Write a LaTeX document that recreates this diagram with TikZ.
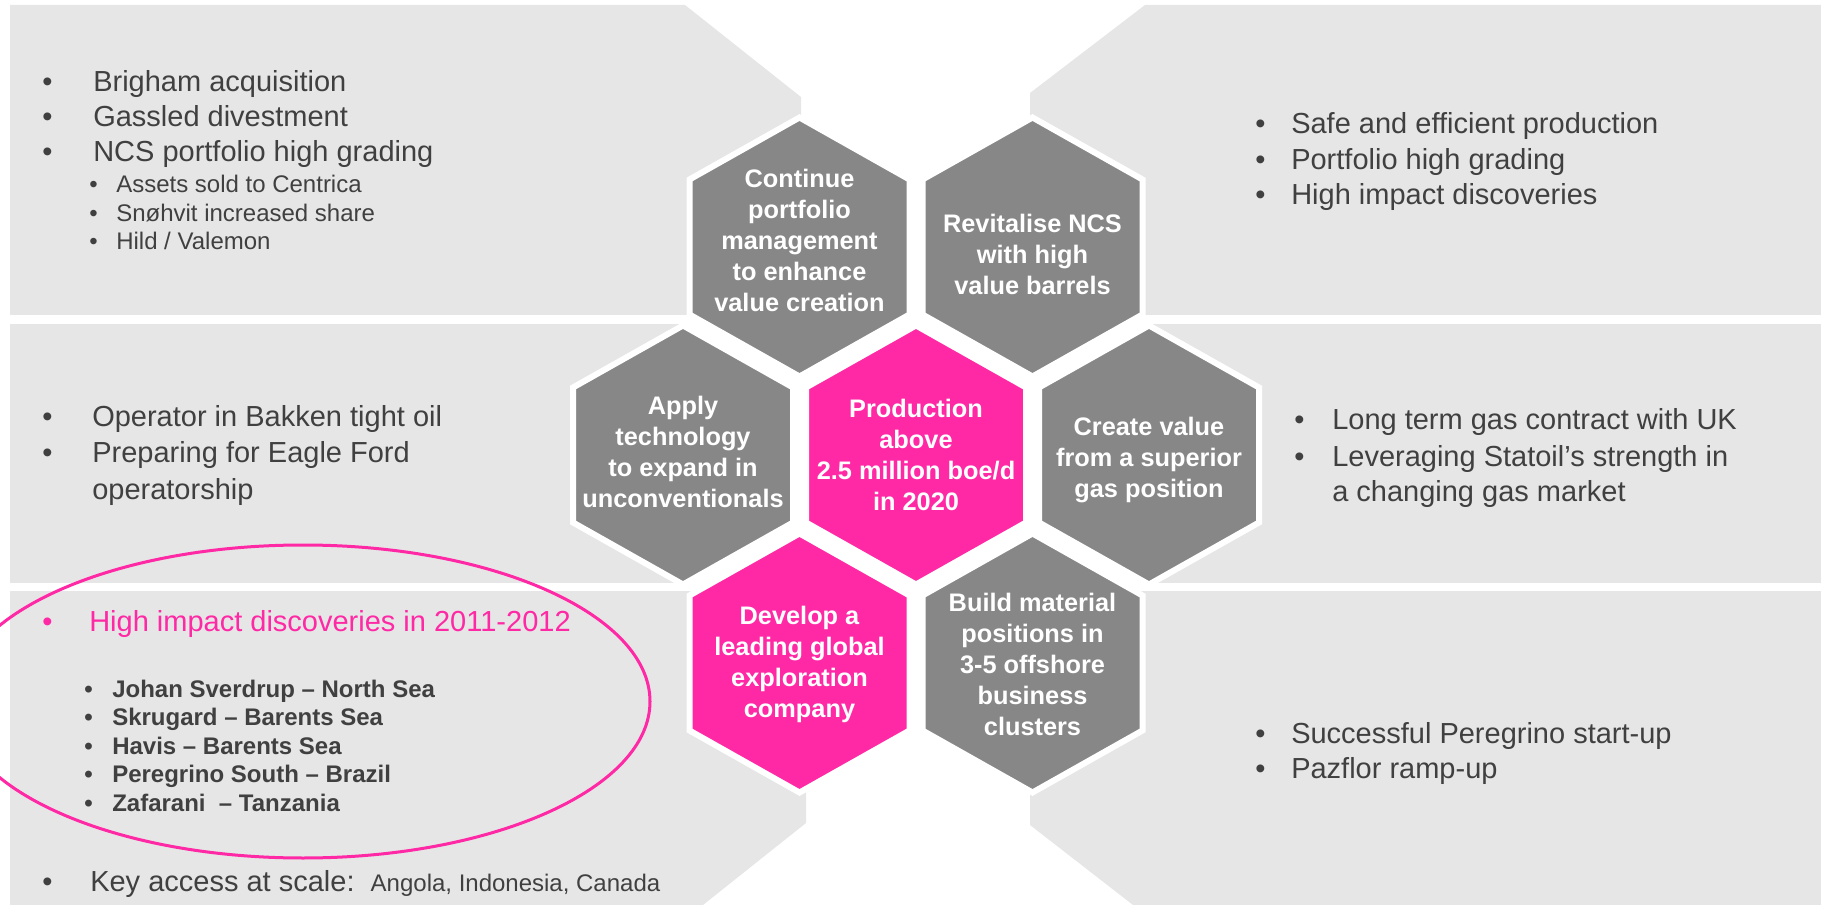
\documentclass[tikz,border=0pt]{standalone}
\usepackage{fontspec}
\setmainfont{Liberation Sans}
\definecolor{panelgrey}{RGB}{230,230,230}
\definecolor{hexgrey}{RGB}{135,135,135}
\definecolor{hexpink}{RGB}{255,40,165}
\definecolor{txtgrey}{RGB}{64,64,64}
\begin{document}
\begin{tikzpicture}[x=0.75pt,y=0.75pt,yscale=-1,xscale=1,
    panel/.style={draw=none,fill=panelgrey},
    hexg/.style={draw=white,line width=4.5pt,fill=hexgrey},
    hexp/.style={draw=white,line width=4.5pt,fill=hexpink},
    hextxt/.style={text=white,align=center,inner sep=0pt,font=\fontsize{19}{23.25}\selectfont\bfseries},
    bigtxt/.style={anchor=base west,inner sep=0pt,text=txtgrey,font=\fontsize{21.75}{26.25}\selectfont},
    subtxt/.style={anchor=base west,inner sep=0pt,text=txtgrey,font=\fontsize{18}{21.5}\selectfont},
    boldtxt/.style={subtxt,font=\fontsize{18}{21.5}\selectfont\bfseries}]
    \useasboundingbox (0,0) rectangle (1821,905);

    %Shape: Polygon [panel top left]
    \draw [panel] (10,5) -- (685,5) -- (801,97) -- (801,315) -- (10,315) -- cycle ;
    %Shape: Polygon [panel top right]
    \draw [panel] (1145,5) -- (1821,5) -- (1821,315) -- (1030,315) -- (1030,93) -- cycle ;
    %Shape: Rectangle [panel middle left]
    \draw [panel] (10,324) -- (683,324) -- (683,583) -- (10,583) -- cycle ;
    %Shape: Rectangle [panel middle right]
    \draw [panel] (1149,324) -- (1821,324) -- (1821,583) -- (1149,583) -- cycle ;
    %Shape: Polygon [panel bottom left]
    \draw [panel] (10,591) -- (806,591) -- (806,823) -- (703,905) -- (10,905) -- cycle ;
    %Shape: Polygon [panel bottom right]
    \draw [panel] (1030,591) -- (1821,591) -- (1821,905) -- (1133,905) -- (1030,825) -- cycle ;

    %Shape: Ellipse [discoveries]
    \draw [color=hexpink,line width=2.25pt] (-44,701.5) .. controls (-44,615.07) and (111.36,545) .. (303,545) .. controls (494.64,545) and (650,615.07) .. (650,701.5) .. controls (650,787.93) and (494.64,858) .. (303,858) .. controls (111.36,858) and (-44,787.93) .. (-44,701.5) -- cycle ;

    %Shape: Hexagon [continue]
    \draw [hexg] (799.5,117.5) -- (909.5,179.5) -- (909.5,314.5) -- (799.5,376.5) -- (689.5,314.5) -- (689.5,179.5) -- cycle ;
    %Shape: Hexagon [revitalise]
    \draw [hexg] (1032.5,117.5) -- (1142.5,179.5) -- (1142.5,314.5) -- (1032.5,376.5) -- (922.5,314.5) -- (922.5,179.5) -- cycle ;
    %Shape: Hexagon [apply]
    \draw [hexg] (683,325.5) -- (793,387.5) -- (793,522.5) -- (683,584.5) -- (573,522.5) -- (573,387.5) -- cycle ;
    %Shape: Hexagon [production]
    \draw [hexp] (916,325.5) -- (1026,387.5) -- (1026,522.5) -- (916,584.5) -- (806,522.5) -- (806,387.5) -- cycle ;
    %Shape: Hexagon [create]
    \draw [hexg] (1149,325.5) -- (1259,387.5) -- (1259,522.5) -- (1149,584.5) -- (1039,522.5) -- (1039,387.5) -- cycle ;
    %Shape: Hexagon [develop]
    \draw [hexp] (799.5,533.5) -- (909.5,595.5) -- (909.5,730.5) -- (799.5,792.5) -- (689.5,730.5) -- (689.5,595.5) -- cycle ;
    %Shape: Hexagon [build]
    \draw [hexg] (1032.5,533.5) -- (1142.5,595.5) -- (1142.5,730.5) -- (1032.5,792.5) -- (922.5,730.5) -- (922.5,595.5) -- cycle ;

    % Text Node
    \draw (799.5,240) node [hextxt] (cont) {Continue\\portfolio\\management\\to enhance\\value creation};
    % Text Node
    \draw (1032.5,254) node [hextxt] (revit) {Revitalise NCS\\with high\\value barrels};
    % Text Node
    \draw (683,452) node [hextxt] (apply) {Apply\\technology\\to expand in\\unconventionals};
    % Text Node
    \draw (916,455) node [hextxt] (prod) {Production\\above\\2.5 million boe/d\\in 2020};
    % Text Node
    \draw (1149,460) node [hextxt] (create) {Create value\\from a superior\\gas position};
    % Text Node
    \draw (799.5,664.5) node [hextxt] (devel) {Develop a\\leading global\\exploration\\company};
    % Text Node
    \draw (1032.5,664.5) node [hextxt] (build) {Build material\\positions in\\3-5 offshore\\business\\clusters};

    % Text Node
    \draw (42,92) node [bigtxt] (tlb1) {•};
    \draw (93,92) node [bigtxt] (tl1) {Brigham acquisition};
    % Text Node
    \draw (42,127) node [bigtxt] (tlb2) {•};
    \draw (93,127) node [bigtxt] (tl2) {Gassled divestment};
    % Text Node
    \draw (42,162) node [bigtxt] (tlb3) {•};
    \draw (93,162) node [bigtxt] (tl3) {NCS portfolio high grading};
    % Text Node
    \draw (89,193) node [subtxt] (tlsb1) {•};
    \draw (116,193) node [subtxt] (tls1) {Assets sold to Centrica};
    % Text Node
    \draw (89,221.5) node [subtxt] (tlsb2) {•};
    \draw (116,221.5) node [subtxt] (tls2) {Snøhvit increased share};
    % Text Node
    \draw (89,250) node [subtxt] (tlsb3) {•};
    \draw (116,250) node [subtxt] (tls3) {Hild / Valemon};

    % Text Node
    \draw (1255,134) node [bigtxt] (trb1) {•};
    \draw (1291,134) node [bigtxt] (tr1) {Safe and efficient production};
    % Text Node
    \draw (1255,169.5) node [bigtxt] (trb2) {•};
    \draw (1291,169.5) node [bigtxt] (tr2) {Portfolio high grading};
    % Text Node
    \draw (1255,205) node [bigtxt] (trb3) {•};
    \draw (1291,205) node [bigtxt] (tr3) {High impact discoveries};

    % Text Node
    \draw (42,427) node [bigtxt] (mlb1) {•};
    \draw (92,427) node [bigtxt] (ml1) {Operator in Bakken tight oil};
    % Text Node
    \draw (42,463) node [bigtxt] (mlb2) {•};
    \draw (92,463) node [bigtxt] (ml2) {Preparing for Eagle Ford};
    \draw (92,499) node [bigtxt] (ml3) {operatorship};

    % Text Node
    \draw (1294,430) node [bigtxt] (mrb1) {•};
    \draw (1332,430) node [bigtxt] (mr1) {Long term gas contract with UK};
    % Text Node
    \draw (1294,466) node [bigtxt] (mrb2) {•};
    \draw (1332,466) node [bigtxt] (mr2) {Leveraging Statoil’s strength in};
    \draw (1332,502) node [bigtxt] (mr3) {a changing gas market};

    % Text Node
    \draw (42,631) node [bigtxt,text=hexpink] (blb1) {•};
    \draw (89,631) node [bigtxt,text=hexpink] (bl1) {High impact discoveries in 2011-2012};
    % Text Node
    \draw (84,697) node [boldtxt] (blsb1) {•};
    \draw (112,697) node [boldtxt] (bls1) {Johan Sverdrup – North Sea};
    % Text Node
    \draw (84,725.5) node [boldtxt] (blsb2) {•};
    \draw (112,725.5) node [boldtxt] (bls2) {Skrugard – Barents Sea};
    % Text Node
    \draw (84,754) node [boldtxt] (blsb3) {•};
    \draw (112,754) node [boldtxt] (bls3) {Havis – Barents Sea};
    % Text Node
    \draw (84,782.5) node [boldtxt] (blsb4) {•};
    \draw (112,782.5) node [boldtxt] (bls4) {Peregrino South – Brazil};
    % Text Node
    \draw (84,811) node [boldtxt] (blsb5) {•};
    \draw (112,811) node [boldtxt] (bls5) {Zafarani~~– Tanzania};
    % Text Node
    \draw (42,891) node [bigtxt] (blb2) {•};
    \draw (90,891) node [bigtxt] (bl2) {Key access at scale:~~{\fontsize{18}{21.5}\selectfont Angola, Indonesia, Canada}};

    % Text Node
    \draw (1255,743) node [bigtxt] (brb1) {•};
    \draw (1291,743) node [bigtxt] (br1) {Successful Peregrino start-up};
    % Text Node
    \draw (1255,778) node [bigtxt] (brb2) {•};
    \draw (1291,778) node [bigtxt] (br2) {Pazflor ramp-up};
\end{tikzpicture}
\end{document}
